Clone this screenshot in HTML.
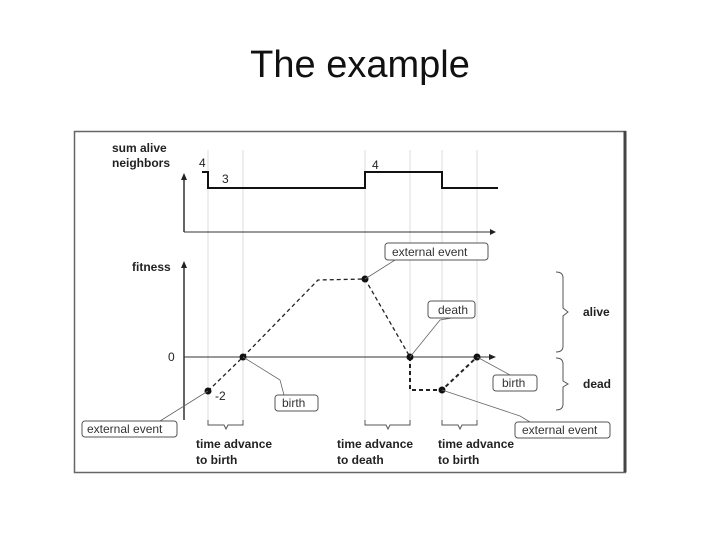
<!DOCTYPE html>
<html><head><style>
body{margin:0;width:720px;height:540px;background:#fff;overflow:hidden;font-family:"Liberation Sans",sans-serif}
.t{position:absolute;top:44px;left:0;width:720px;text-align:center;font-size:38px;color:#111}
</style></head><body>
<div class="t">The example</div>
<svg width="720" height="540" style="position:absolute;left:0;top:0" font-family="Liberation Sans, sans-serif">
<rect x="74.5" y="131.5" width="551" height="341" fill="none" stroke="#666" stroke-width="1.5"/>
<line x1="625" y1="131" x2="625" y2="472" stroke="#444" stroke-width="3"/>
<g stroke="#ddd" stroke-width="1">
<line x1="208" y1="150" x2="208" y2="425"/><line x1="243" y1="150" x2="243" y2="425"/>
<line x1="365" y1="150" x2="365" y2="425"/><line x1="410" y1="150" x2="410" y2="425"/>
<line x1="442" y1="150" x2="442" y2="425"/><line x1="477" y1="150" x2="477" y2="425"/>
</g>
<g font-weight="bold" font-size="12" fill="#222">
<text x="112" y="152">sum alive</text><text x="112" y="167">neighbors</text>
<text x="132" y="271">fitness</text>
<text x="583" y="316">alive</text><text x="583" y="388">dead</text>
<text x="196" y="448">time advance</text><text x="196" y="464">to birth</text>
<text x="337" y="448">time advance</text><text x="337" y="464">to death</text>
<text x="438" y="448">time advance</text><text x="438" y="464">to birth</text>
</g>
<g stroke="#333" fill="none">
<line x1="184" y1="178" x2="184" y2="232" stroke-width="1.5"/>
<line x1="184" y1="232" x2="490" y2="232"/>
<line x1="184" y1="266" x2="184" y2="420" stroke-width="1.5"/>
<line x1="184" y1="357" x2="490" y2="357"/>
<polyline points="202,172 208,172 208,188 365,188 365,172 442,172 442,188 498,188" stroke="#111" stroke-width="2"/>
</g>
<polygon points="184,173 181,180 187,180" fill="#222"/>
<polygon points="184,261 181,268 187,268" fill="#222"/>
<polygon points="496,232 490,229 490,235" fill="#222"/>
<polygon points="496,357 489,354 489,360" fill="#222"/>
<g font-size="12" fill="#222">
<text x="199" y="167">4</text><text x="222" y="183">3</text><text x="372" y="169">4</text>
<text x="168" y="361">0</text><text x="215" y="400">-2</text>
</g>
<g stroke="#222" fill="none" stroke-dasharray="4,3" stroke-width="1.3">
<polyline points="208,391 243,357 318,280 365,279 410,357"/>
<polyline points="410,357 410,390 442,390 477,357" stroke-width="2"/>
</g>
<g fill="#111">
<circle cx="208" cy="391" r="3.5"/><circle cx="243" cy="357" r="3.5"/><circle cx="365" cy="279" r="3.5"/>
<circle cx="410" cy="357" r="3.5"/><circle cx="442" cy="390" r="3.5"/><circle cx="477" cy="357" r="3.5"/>
</g>
<g stroke="#666" fill="none" stroke-width="0.8">
<polyline points="365,279 395,260 410,260"/><polyline points="208,391 160,421 172,421"/>
<polyline points="243,357 280,380 284,395"/><polyline points="410,357 440,320 452,318"/>
<polyline points="477,357 510,375 498,375"/><polyline points="442,390 520,416 530,422"/>
</g>
<g stroke="#555" fill="#fff" stroke-width="1">
<rect x="385" y="243" width="103" height="17" rx="3"/>
<rect x="428" y="301" width="47" height="17" rx="3"/>
<rect x="275" y="395" width="43" height="16" rx="3"/>
<rect x="82" y="421" width="95" height="16" rx="3"/>
<rect x="493" y="375" width="44" height="16" rx="3"/>
<rect x="515" y="422" width="95" height="16" rx="3"/>
</g>
<g font-size="12" fill="#333">
<text x="392" y="256">external event</text><text x="438" y="314">death</text>
<text x="282" y="407">birth</text><text x="87" y="433">external event</text>
<text x="502" y="387">birth</text><text x="522" y="434">external event</text>
</g>
<g stroke="#555" fill="none" stroke-width="1">
<path d="M208,420 v5 h16 l2,4 l2,-4 h15 v-5"/>
<path d="M365,420 v5 h21 l2,4 l2,-4 h20 v-5"/>
<path d="M442,420 v5 h16 l2,4 l2,-4 h15 v-5"/>
<path d="M556,272 q7,0 7,6 v30 l5,4 l-5,4 v30 q0,6 -7,6"/>
<path d="M556,358 q7,0 7,6 v17 l5,3 l-5,3 v17 q0,6 -7,6"/>
</g>
</svg>
</body></html>
